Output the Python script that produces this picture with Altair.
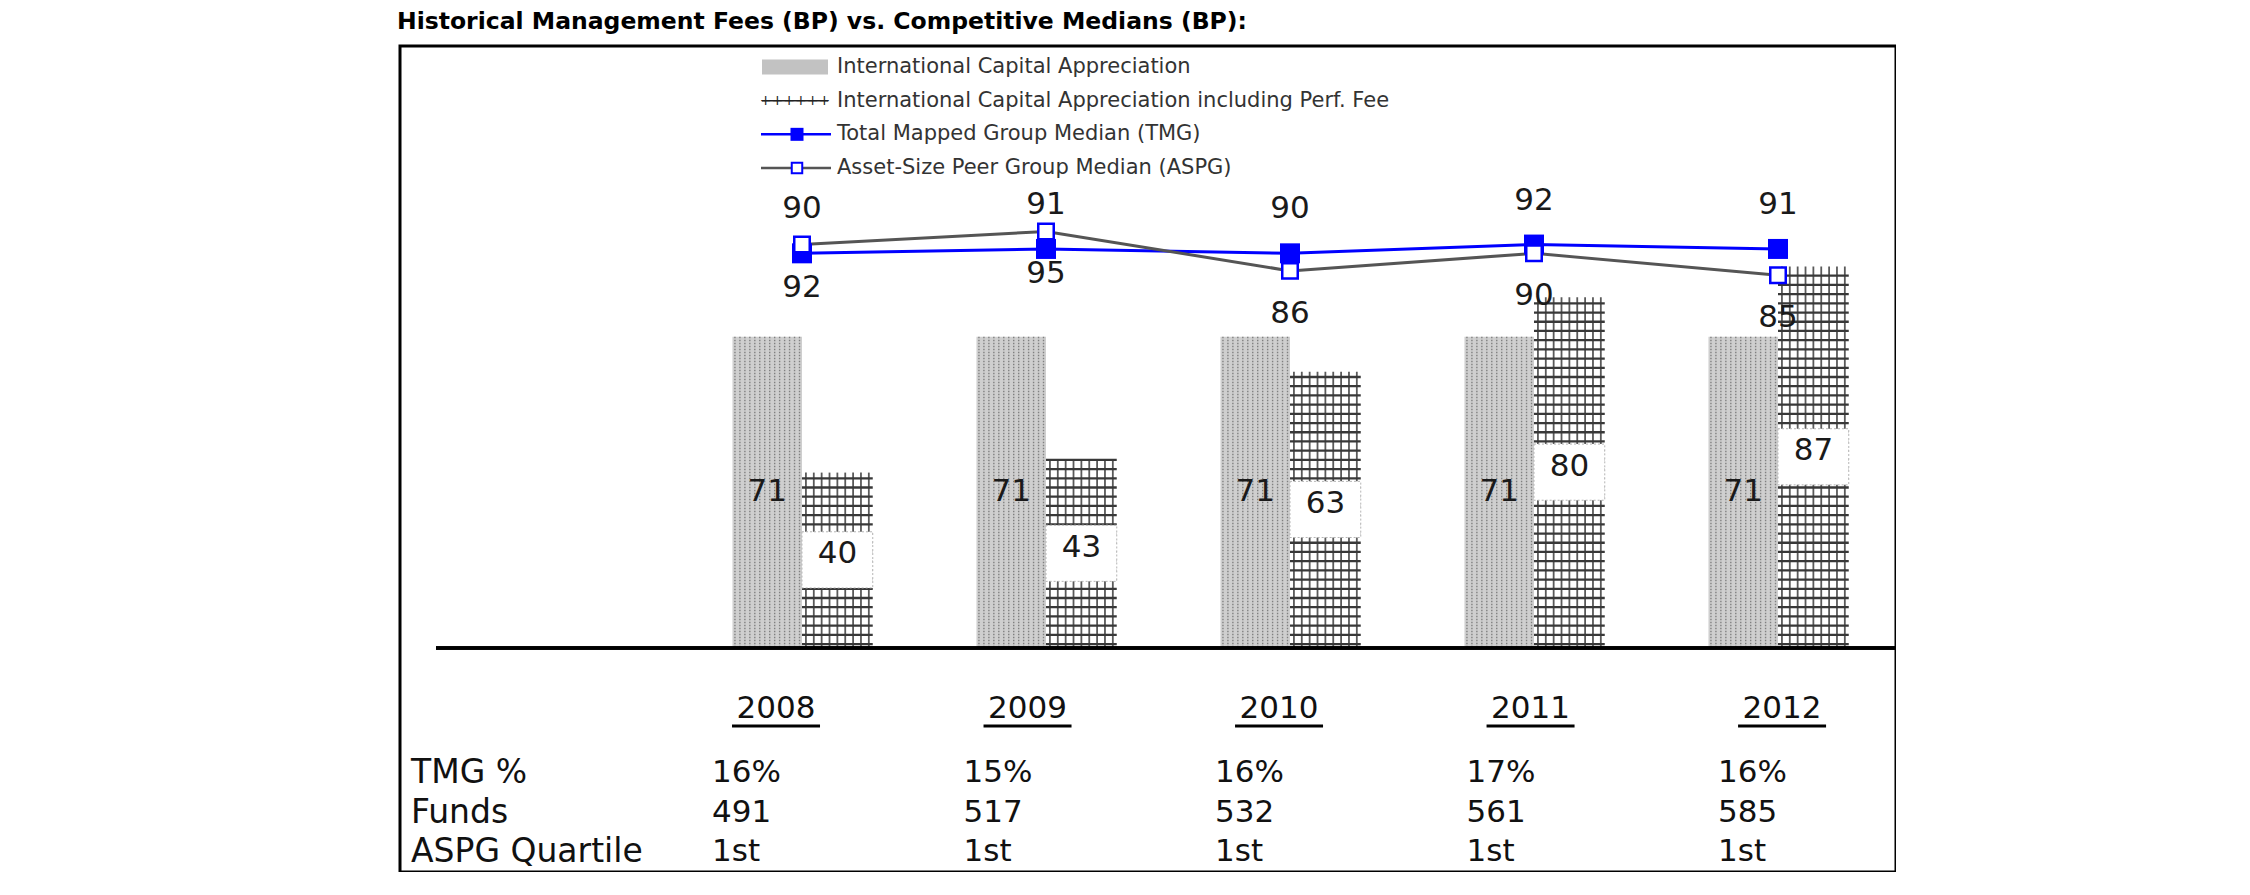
import altair as alt
import pandas as pd

# ---------------- data ----------------
title_text = "Historical Management Fees (BP) vs. Competitive Medians (BP):"
years = ["2008", "2009", "2010", "2011", "2012"]
ica = [71, 71, 71, 71, 71]
ica_perf = [40, 43, 63, 80, 87]
tmg = [90, 91, 90, 92, 91]
aspg = [92, 95, 86, 90, 85]
tmg_pct = ["16%", "15%", "16%", "17%", "16%"]
funds = ["491", "517", "532", "561", "585"]
quartile = ["1st", "1st", "1st", "1st", "1st"]
row_labels = ["TMG %", "Funds", "ASPG Quartile"]
legend_labels = [
    "International Capital Appreciation",
    "International Capital Appreciation including Perf. Fee",
    "Total Mapped Group Median (TMG)",
    "Asset-Size Peer Group Median (ASPG)",
]

idx = list(range(len(years)))
bars_df = pd.DataFrame({
    "year": years * 2,
    "idx": idx * 2,
    "series": ["ICA"] * len(years) + ["ICAP"] * len(years),
    "value": ica + ica_perf,
})
lines_df = pd.DataFrame({"year": years, "idx": idx, "tmg": tmg, "aspg": aspg})
years_df = pd.DataFrame({"year": years, "idx": idx})
table_df = pd.DataFrame({
    "idx": idx * 3,
    "row": [row_labels[0]] * 5 + [row_labels[1]] * 5 + [row_labels[2]] * 5,
    "text": tmg_pct + funds + quartile,
})
rowlab_df = pd.DataFrame({"row": row_labels})
legend_df = pd.DataFrame({"label": legend_labels, "kind": ["ica", "icap", "tmg", "aspg"]})
title_df = pd.DataFrame({"t": [title_text]})

FONT = "DejaVu Sans"
W, H = 1496, 826

# ---------------- scales ----------------
XS = alt.Scale(domain=[-1.6475, 4.4836], nice=False, zero=False)
YS = alt.Scale(domain=[-51.08, 137.28], nice=False, zero=False)
TX = alt.Scale(domain=[-1.495, 4.453], nice=False, zero=False)
ROWS = alt.Scale(type="point", domain=row_labels, range=[727, 806], padding=0)
LEG = alt.Scale(type="point", domain=legend_labels, range=[21, 122], padding=0)

base = alt.Chart(bars_df).transform_calculate(
    x0="datum.series == 'ICA' ? datum.idx - 0.285 : datum.idx",
    x1="datum.series == 'ICA' ? datum.idx : datum.idx + 0.29",
    mid="datum.value / 2",
)

# gray patterned bars
gray_bar = base.transform_filter("datum.series == 'ICA'").mark_rect(color="#cfcfcf").encode(
    x=alt.X("x0:Q", scale=XS, axis=None), x2="x1:Q",
    y=alt.Y("value:Q", scale=YS, axis=None), y2=alt.datum(0),
)
gray_stripes = (
    base.transform_filter("datum.series == 'ICA'")
    .transform_calculate(k="sequence(0, 14)")
    .transform_flatten(["k"])
    .transform_calculate(xs="datum.x0 + (datum.k + 0.5) * (datum.x1 - datum.x0) / 14")
    .mark_rule(color="#808080", strokeWidth=1.4, strokeDash=[1.5, 1.5])
    .encode(
        x=alt.X("xs:Q", scale=XS, axis=None),
        y=alt.Y("value:Q", scale=YS, axis=None), y2=alt.datum(0),
    )
)

# cross-hatched bars
hatch_bar = base.transform_filter("datum.series == 'ICAP'").mark_rect(color="white").encode(
    x=alt.X("x0:Q", scale=XS, axis=None), x2="x1:Q",
    y=alt.Y("value:Q", scale=YS, axis=None), y2=alt.datum(0),
)
hatch_v = (
    base.transform_filter("datum.series == 'ICAP'")
    .transform_calculate(k="sequence(0, 9)")
    .transform_flatten(["k"])
    .transform_calculate(xs="datum.x0 + (datum.k + 0.5) * (datum.x1 - datum.x0) / 9")
    .mark_rule(color="#5a5a5a", strokeWidth=1.8)
    .encode(
        x=alt.X("xs:Q", scale=XS, axis=None),
        y=alt.Y("value:Q", scale=YS, axis=None), y2=alt.datum(0),
    )
)
hatch_h = (
    base.transform_filter("datum.series == 'ICAP'")
    .transform_calculate(lv="sequence(0.9, datum.value, 2.1)")
    .transform_flatten(["lv"])
    .mark_rule(color="#383838", strokeWidth=2.3)
    .encode(
        x=alt.X("x0:Q", scale=XS, axis=None), x2="x1:Q",
        y=alt.Y("lv:Q", scale=YS, axis=None),
    )
)
label_box = (
    base.transform_filter("datum.series == 'ICAP'")
    .transform_calculate(b0="datum.mid - 6.3", b1="datum.mid + 6.5")
    .mark_rect(fill="white", stroke="#b5b5b5", strokeWidth=1, strokeDash=[2, 2])
    .encode(
        x=alt.X("x0:Q", scale=XS, axis=None), x2="x1:Q",
        y=alt.Y("b0:Q", scale=YS, axis=None), y2="b1:Q",
    )
)
bar_text_ica = (
    base.transform_filter("datum.series == 'ICA'")
    .transform_calculate(xc="(datum.x0 + datum.x1) / 2")
    .mark_text(font=FONT, fontSize=31, color="#1a1a1a", baseline="middle", align="center")
    .encode(
        x=alt.X("xc:Q", scale=XS, axis=None),
        y=alt.Y("mid:Q", scale=YS, axis=None),
        text="value:Q",
    )
)
bar_text_icap = (
    base.transform_filter("datum.series == 'ICAP'")
    .transform_calculate(xc="(datum.x0 + datum.x1) / 2")
    .mark_text(font=FONT, fontSize=31, color="#1a1a1a", baseline="middle", align="center", dy=-6)
    .encode(
        x=alt.X("xc:Q", scale=XS, axis=None),
        y=alt.Y("mid:Q", scale=YS, axis=None),
        text="value:Q",
    )
)

# baseline
baseline = alt.Chart(years_df).mark_rule(color="black", strokeWidth=3).encode(
    x=alt.value(36), x2=alt.value(W),
    y=alt.Y(datum=0, scale=YS, axis=None),
)

# lines
lb = alt.Chart(lines_df)
tmg_line = lb.mark_line(color="#0000ff", strokeWidth=3).encode(
    x=alt.X("idx:Q", scale=XS, axis=None), y=alt.Y("tmg:Q", scale=YS, axis=None))
aspg_line = lb.mark_line(color="#555555", strokeWidth=3).encode(
    x=alt.X("idx:Q", scale=XS, axis=None), y=alt.Y("aspg:Q", scale=YS, axis=None))
tmg_pts = lb.mark_point(shape="square", filled=True, size=400, color="#0000ff", opacity=1).encode(
    x=alt.X("idx:Q", scale=XS, axis=None), y=alt.Y("tmg:Q", scale=YS, axis=None))
aspg_pts = lb.mark_point(shape="square", filled=False, fill="white", fillOpacity=1, size=240,
                         stroke="#0000ff", strokeWidth=2.5, opacity=1).encode(
    x=alt.X("idx:Q", scale=XS, axis=None), y=alt.Y("aspg:Q", scale=YS, axis=None))
tmg_lab = lb.mark_text(font=FONT, fontSize=31, color="#1a1a1a", dy=-44, baseline="middle").encode(
    x=alt.X("idx:Q", scale=XS, axis=None), y=alt.Y("tmg:Q", scale=YS, axis=None), text="tmg:Q")
aspg_lab = lb.mark_text(font=FONT, fontSize=31, color="#1a1a1a", dy=43, baseline="middle").encode(
    x=alt.X("idx:Q", scale=XS, axis=None), y=alt.Y("aspg:Q", scale=YS, axis=None), text="aspg:Q")

# legend
lg = alt.Chart(legend_df)
leg_y = alt.Y("label:N", scale=LEG, axis=None)
leg_ica = lg.transform_filter("datum.kind == 'ica'").mark_tick(
    orient="horizontal", size=66, thickness=15, color="#c2c2c2", opacity=1).encode(
    x=alt.value(395), y=leg_y)
leg_icap_line = lg.transform_filter("datum.kind == 'icap'").mark_tick(
    orient="horizontal", size=66, thickness=1.5, color="#222222", opacity=1).encode(
    x=alt.value(395), y=leg_y)
leg_icap_plus = lg.transform_filter("datum.kind == 'icap'").mark_text(
    text="++++++", font=FONT, fontSize=14, color="#222222", align="center", baseline="middle").encode(
    x=alt.value(395), y=leg_y)
leg_tmg_line = lg.transform_filter("datum.kind == 'tmg'").mark_tick(
    orient="horizontal", size=70, thickness=2.5, color="#0000ff", opacity=1).encode(
    x=alt.value(396), y=leg_y)
leg_tmg_pt = lg.transform_filter("datum.kind == 'tmg'").mark_point(
    shape="square", filled=True, size=169, color="#0000ff", opacity=1).encode(
    x=alt.value(397), y=leg_y)
leg_aspg_line = lg.transform_filter("datum.kind == 'aspg'").mark_tick(
    orient="horizontal", size=70, thickness=2.5, color="#555555", opacity=1).encode(
    x=alt.value(396), y=leg_y)
leg_aspg_pt = lg.transform_filter("datum.kind == 'aspg'").mark_point(
    shape="square", filled=False, fill="white", fillOpacity=1, size=110, stroke="#0000ff",
    strokeWidth=2, opacity=1).encode(x=alt.value(397), y=leg_y)
leg_text = lg.mark_text(font=FONT, fontSize=21, color="#333333", align="left", baseline="middle").encode(
    x=alt.value(437), y=leg_y, text="label:N")

# table
yr = alt.Chart(years_df)
year_text = yr.mark_text(font=FONT, fontSize=31, color="#111111", align="center", baseline="middle").encode(
    x=alt.X("idx:Q", scale=TX, axis=None), y=alt.value(663), text="year:N")
year_ul = yr.mark_tick(orient="horizontal", size=88, thickness=3, color="black", opacity=1).encode(
    x=alt.X("idx:Q", scale=TX, axis=None), y=alt.value(680))
table_text = alt.Chart(table_df).mark_text(
    font=FONT, fontSize=31, color="#111111", align="left", baseline="middle", dx=-64).encode(
    x=alt.X("idx:Q", scale=TX, axis=None),
    y=alt.Y("row:N", scale=ROWS, axis=None), text="text:N")
row_text = alt.Chart(rowlab_df).mark_text(
    font=FONT, fontSize=33, color="#111111", align="left", baseline="middle").encode(
    x=alt.value(11), y=alt.Y("row:N", scale=ROWS, axis=None), text="row:N")

# title (drawn as text above the frame)
title_mark = alt.Chart(title_df).mark_text(
    font=FONT, fontSize=23.5, fontWeight="bold", color="black", align="left", baseline="alphabetic").encode(
    x=alt.value(-3), y=alt.value(-17), text="t:N")

chart = alt.layer(
    gray_bar, gray_stripes, hatch_bar, hatch_v, hatch_h, label_box,
    bar_text_ica, bar_text_icap, baseline,
    tmg_line, aspg_line, tmg_pts, aspg_pts, tmg_lab, aspg_lab,
    leg_ica, leg_icap_line, leg_icap_plus, leg_tmg_line, leg_tmg_pt,
    leg_aspg_line, leg_aspg_pt, leg_text,
    year_text, year_ul, table_text, row_text, title_mark,
).resolve_scale(x="independent", y="independent").properties(
    width=W, height=H,
    autosize=alt.AutoSizeParams(type="none"),
    padding={"left": 392, "top": 38, "right": 0, "bottom": 0},
    background="white",
).configure_view(stroke="black", strokeWidth=3)

chart.save("out.html", embed_options={"renderer": "svg", "actions": False})
